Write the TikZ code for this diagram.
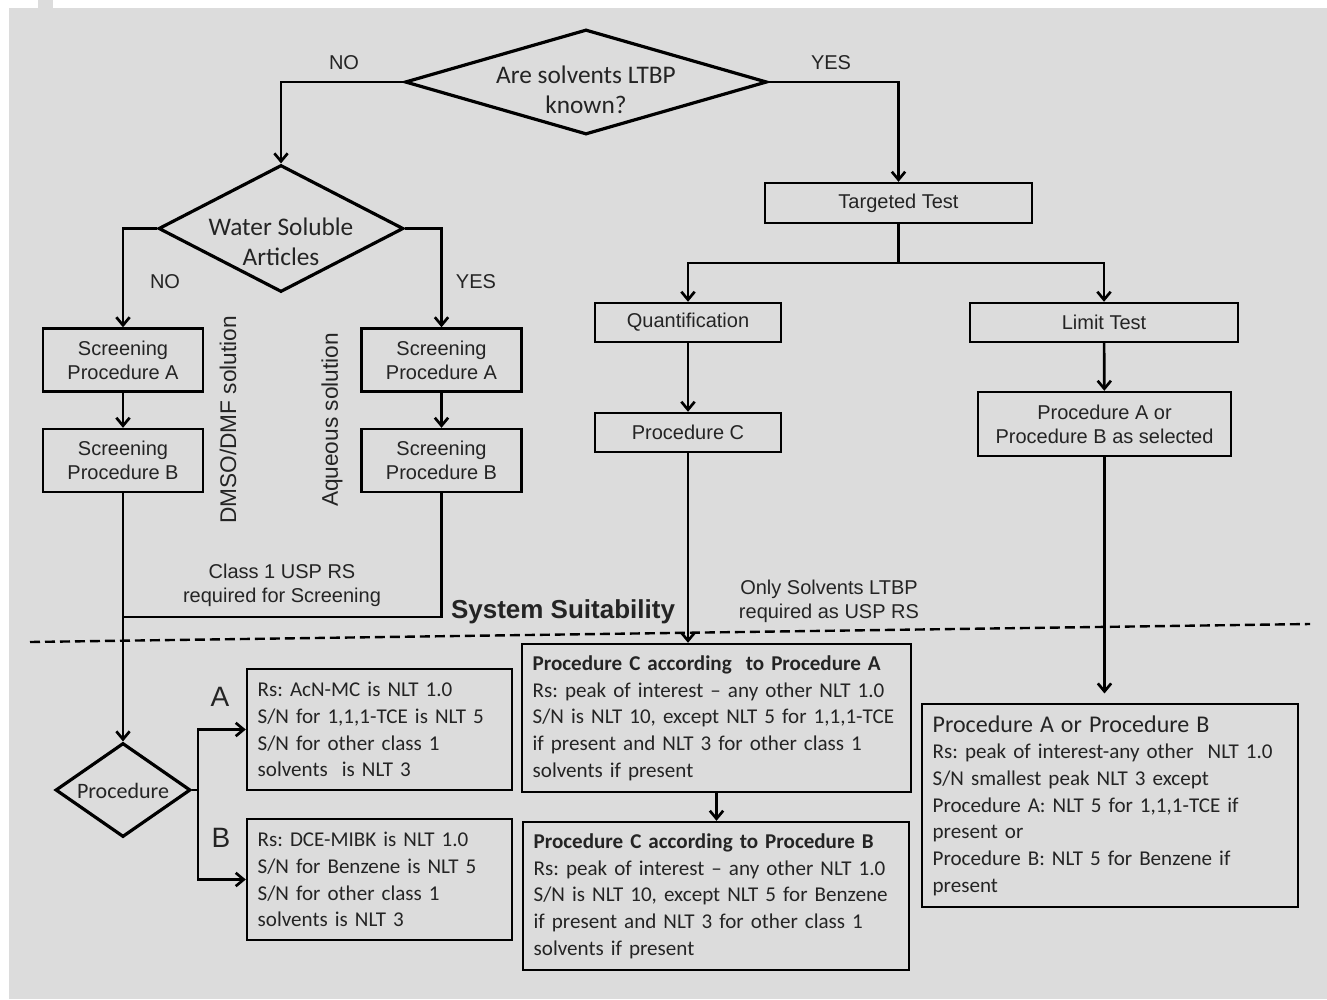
\documentclass[tikz,border=0pt]{standalone}
\usepackage{fontspec}
\setmainfont{Carlito}
\newfontfamily\arialfont{Liberation Sans}
\usetikzlibrary{shapes.geometric,arrows.meta}
\definecolor{paper}{RGB}{220,220,220}
\definecolor{ink}{RGB}{36,36,36}
\frenchspacing
\hyphenpenalty=10000
\exhyphenpenalty=10000

\begin{document}
\begin{tikzpicture}
[x=0.75pt, y=-0.75pt,
>={Straight Barb[length=6pt,width=10pt]},
link/.style={draw=black, line width=2pt},
cutline/.style={draw=black, line width=1.8pt, dash pattern=on 7.5pt off 3.75pt},
decision/.style={diamond, draw=black, line width=2.4pt, inner sep=0pt},
headtext/.style={text=ink, align=center, font=\fontsize{19}{22.5}\selectfont},
stepbox/.style={rectangle, draw=black, line width=1.8pt, inner sep=0pt, text=ink, align=center, font=\arialfont\fontsize{15}{18}\selectfont},
rulebox/.style={rectangle, draw=black, line width=1.8pt, inner xsep=8pt, inner ysep=0pt, text=ink, align=left, font=\fontsize{15.8}{20}\selectfont},
tag/.style={text=ink, align=center, font=\arialfont\fontsize{15}{18}\selectfont},
sidetag/.style={text=ink, rotate=90, font=\arialfont\fontsize{17}{20}\selectfont},
bigtag/.style={text=ink, font=\arialfont\fontsize{21}{24}\selectfont}]
\useasboundingbox (0,0) rectangle (1327,999);
\fill[white] (0,0) rectangle (1327,999);
\fill[paper] (9,8) rectangle (1327,999);
\fill[paper] (38,0) rectangle (53,8);
\node[decision, minimum width=271.5pt, minimum height=78.75pt, label={[headtext, yshift=-6pt]center:Are solvents LTBP\\known?}] (ltbp) at (586,82) {};
\node[decision, minimum width=183.75pt, minimum height=95.25pt, label={[headtext, yshift=-10pt]center:Water Soluble\\Articles}] (water) at (281,228.5) {};
\node[decision, minimum width=101.25pt, minimum height=70.5pt, label={[headtext, font=\fontsize{16.5}{20}\selectfont, yshift=-1pt]center:Procedure}] (proc) at (123,790) {};
\node[stepbox, minimum width=120pt, minimum height=47.25pt] (scrA1) at (123,360) {Screening\\Procedure A};
\node[stepbox, minimum width=120pt, minimum height=47.25pt] (scrB1) at (123,460.5) {Screening\\Procedure B};
\node[stepbox, minimum width=120pt, minimum height=47.25pt] (scrA2) at (441.5,360) {Screening\\Procedure A};
\node[stepbox, minimum width=120pt, minimum height=47.25pt] (scrB2) at (441.5,460.5) {Screening\\Procedure B};
\node[stepbox, minimum width=200pt, minimum height=30pt] (targ) at (898.5,203) {Targeted Test};
\node[stepbox, minimum width=139.5pt, minimum height=29.25pt] (quant) at (688,322.5) {Quantification};
\node[stepbox, minimum width=139.5pt, minimum height=29.25pt] (procC) at (688,432.5) {Procedure C};
\node[stepbox, minimum width=201pt, minimum height=29.25pt] (limit) at (1104,322.5) {Limit Test};
\node[stepbox, minimum width=189.75pt, minimum height=48pt] (select) at (1104.5,424) {Procedure A or\\Procedure B as selected};
\node[rulebox, text width=182.75pt, minimum height=90.75pt] (ruleA) at (379.5,729.5) {Rs: AcN-MC is NLT 1.0\\S/N for 1,1,1-TCE is NLT 5\\S/N for other class 1\\solvents~ is NLT 3};
\node[rulebox, text width=182.75pt, minimum height=90.75pt] (ruleB) at (379.5,879.5) {Rs: DCE-MIBK is NLT 1.0\\S/N for Benzene is NLT 5\\S/N for other class 1\\solvents is NLT 3};
\node[rulebox, text width=275.75pt, minimum height=111pt] (cA) at (716.5,718) {\textbf{Procedure C according~ to Procedure A}\\Rs: peak of interest -- any other NLT 1.0\\S/N is NLT 10, except NLT 5 for 1,1,1-TCE\\if present and NLT 3 for other class 1\\solvents if present};
\node[rulebox, text width=273.5pt, minimum height=111pt] (cB) at (716,896) {\textbf{Procedure C according to Procedure B}\\Rs: peak of interest -- any other NLT 1.0\\S/N is NLT 10, except NLT 5 for Benzene\\if present and NLT 3 for other class 1\\solvents if present};
\node[rulebox, text width=266pt, minimum height=152.25pt] (rbox) at (1110,805.5) {{\fontsize{18}{21}\selectfont Procedure A or Procedure B}\\Rs: peak of interest-any other~ NLT 1.0\\S/N smallest peak NLT 3 except\\Procedure A: NLT 5 for 1,1,1-TCE if\\present or\\Procedure B: NLT 5 for Benzene if\\present};
\node[tag] (noTop) at (344,63) {NO};
\node[tag] (yesTop) at (831,63) {YES};
\node[tag] (noWater) at (165,282) {NO};
\node[tag] (yesWater) at (476,282) {YES};
\node[sidetag] (dmso) at (228,420) {DMSO/DMF solution};
\node[sidetag] (aqueous) at (332,420) {Aqueous solution};
\node[tag] (class) at (282,585.5) {Class 1 USP RS\\required for Screening};
\node[tag, font=\arialfont\bfseries\fontsize{19.5}{22}\selectfont] (suit) at (563,612) {System Suitability};
\node[tag] (only) at (829,601.5) {Only Solvents LTBP\\required as USP RS};
\node[bigtag] (labA) at (220,697) {A};
\node[bigtag] (labB) at (221,838) {B};
\coordinate (cutL) at (30,642);
\coordinate (cutR) at (1310,624);
\coordinate (merge) at (123,617);
\coordinate (fork) at (198,790);
\coordinate (split) at (898.5,263);
\draw[cutline] (cutL) -- (cutR);
\draw[link,->] (ltbp.west) -| (water.north);
\draw[link,->] (ltbp.east) -| (targ.north);
\draw[link,->] (water.west) -| (scrA1.north);
\draw[link,->] (water.east) -| (scrA2.north);
\draw[link,->] (scrA1) -- (scrB1);
\draw[link,->] (scrA2) -- (scrB2);
\draw[link] (scrB2.south) |- (merge);
\draw[link,->] (scrB1.south) -- (proc.north);
\draw[link] (proc.east) -- (fork);
\draw[link,->] (fork) |- (ruleA.west);
\draw[link,->] (fork) |- (ruleB.west);
\draw[link] (targ.south) -- (split);
\draw[link,->] (split) -| (quant.north);
\draw[link,->] (split) -| (limit.north);
\draw[link,->] (quant) -- (procC);
\draw[link,->] (procC.south) -- (procC.south |- cA.north);
\draw[link,->] (cA.south) -- (cA.south |- cB.north);
\draw[link,->] (limit) -- (select);
\draw[link,->,shorten >=7pt] (select.south) -- (select.south |- rbox.north);
\end{tikzpicture}
\end{document}
